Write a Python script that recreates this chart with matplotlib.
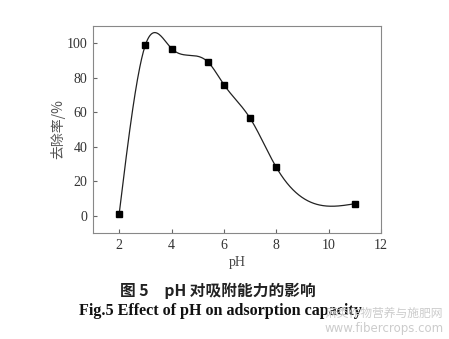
import numpy as np
import matplotlib
matplotlib.use("Agg")
import matplotlib.pyplot as plt

# 数据
ph = [2, 3, 4, 5.4, 6, 7, 8, 11]
removal = [1, 99, 97, 89, 76, 56.5, 28, 7]
xticks = [2, 4, 6, 8, 10, 12]
yticks = [0, 20, 40, 60, 80, 100]


def natural_spline(x, y, xs):
    # 自然三次样条 (仿 Origin 的 spline 连线)
    x = np.asarray(x, float)
    y = np.asarray(y, float)
    n = len(x)
    h = np.diff(x)
    A = np.zeros((n, n))
    b = np.zeros(n)
    A[0, 0] = A[-1, -1] = 1
    for i in range(1, n - 1):
        A[i, i - 1] = h[i - 1]
        A[i, i] = 2 * (h[i - 1] + h[i])
        A[i, i + 1] = h[i]
        b[i] = 3 * ((y[i + 1] - y[i]) / h[i] - (y[i] - y[i - 1]) / h[i - 1])
    c = np.linalg.solve(A, b)
    out = np.empty_like(xs)
    for k, t in enumerate(xs):
        i = min(np.searchsorted(x, t, side="right") - 1, n - 2)
        i = max(i, 0)
        bi = (y[i + 1] - y[i]) / h[i] - h[i] * (2 * c[i] + c[i + 1]) / 3
        di = (c[i + 1] - c[i]) / (3 * h[i])
        dt = t - x[i]
        out[k] = y[i] + bi * dt + c[i] * dt ** 2 + di * dt ** 3
    return out


fig = plt.figure(figsize=(4.49, 3.39), dpi=100)
ax = fig.add_axes([0.207, 0.3127, 0.642, 0.6103])

xs = np.linspace(ph[0], ph[-1], 400)
ax.plot(xs, natural_spline(ph, removal, xs), color="#222222", lw=0.9)
ax.plot(ph, removal, "s", color="black", ms=4)

ax.set_xlim(1, 12)
ax.set_ylim(-10, 110)
ax.set_xticks(xticks)
ax.set_yticks(yticks)
ax.tick_params(direction="in", length=3, width=0.8, color="#666666",
               labelsize=10, labelcolor="#333333", pad=4)
for lab in ax.get_xticklabels() + ax.get_yticklabels():
    lab.set_family("Liberation Serif")
for s in ax.spines.values():
    s.set_color("#888888")
    s.set_linewidth(0.8)

ax.set_xlabel("pH", family="Liberation Serif", fontsize=10, color="#444444", labelpad=3)
ax.set_ylabel("去除率/%", family=["Noto Sans CJK SC", "DejaVu Sans"], fontsize=10,
              color="#555555", labelpad=1)

fig.text(0.485, 0.143, "图 5　pH 对吸附能力的影响", family=["Noto Sans CJK SC", "DejaVu Sans"],
         fontsize=11.3, fontweight="bold", ha="center", va="center", color="#222222")
fig.text(0.49, 0.083, "Fig.5 Effect of pH on adsorption capacity", family="Liberation Serif",
         fontsize=11.6, fontweight="bold", ha="center", va="center", color="#111111")

# 水印
fig.text(0.988, 0.075, "麻类作物营养与施肥网", family=["Noto Sans CJK SC", "DejaVu Sans"],
         fontsize=8.5, ha="right", va="center", color="#cccccc")
fig.text(0.988, 0.03, "www.fibercrops.com", family="DejaVu Sans",
         fontsize=8.5, ha="right", va="center", color="#cccccc")

fig.savefig("out.png", dpi=100)
